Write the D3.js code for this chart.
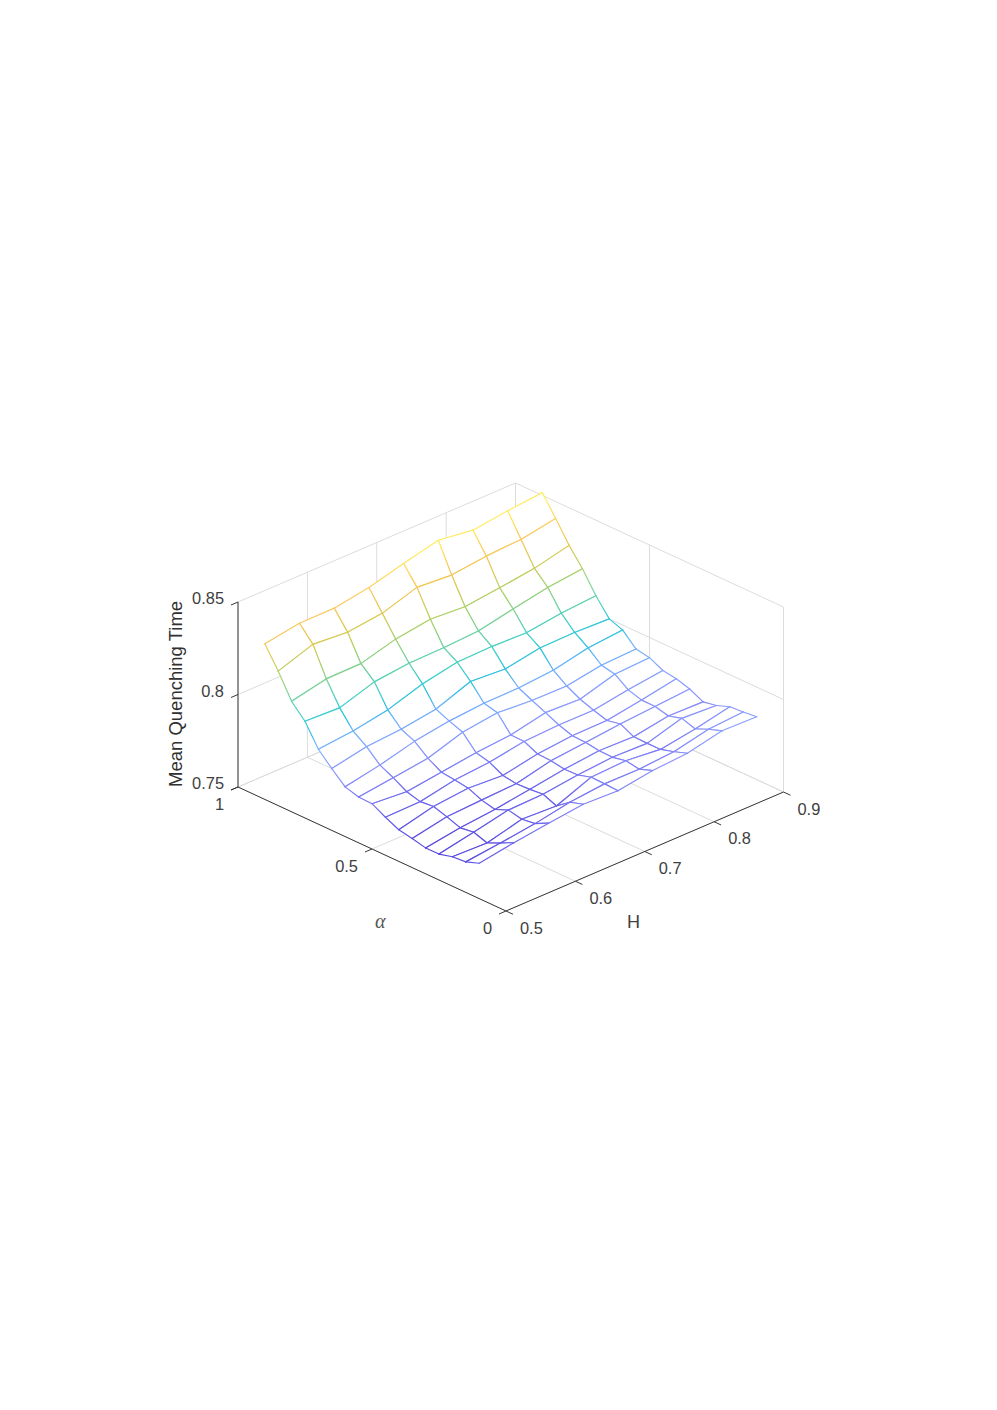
<!DOCTYPE html>
<html><head><meta charset="utf-8">
<script src="https://cdn.jsdelivr.net/npm/d3@7/dist/d3.min.js"></script>
<style>html,body{margin:0;padding:0;background:#fff}svg{display:block}text{font-family:"Liberation Sans",Arial,sans-serif}</style>
</head><body><svg id="c" width="997" height="1410"></svg>
<script>
const hValues=[0.5,0.55,0.6,0.65,0.7,0.75,0.8,0.85,0.9];
const alphaValues=[0.9,0.85,0.8,0.75,0.7,0.65,0.6,0.55,0.5,0.45,0.4,0.35,0.3,0.25,0.2,0.15,0.1];
const zA90=[.8341,.8372,.8373,.8404,.8454,.8499,.8473,.8497,.8515];
const zA85=[.8227,.8291,.8276,.8298,.8358,.8344,.8366,.8376,.8409];
const zA80=[.8097,.8138,.8140,.8192,.8219,.8206,.8228,.8253,.8297];
const zA75=[.8023,.8015,.8075,.8095,.8099,.8109,.8147,.8183,.8204];
const zA70=[.7905,.7923,.7957,.8017,.8054,.8058,.8052,.8078,.8092];
const zA65=[.7834,.7872,.7886,.7914,.7983,.7970,.8004,.8007,.8000];
const zA60=[.7769,.7806,.7854,.7883,.7899,.7901,.7917,.7957,.7973];
const zA55=[.7748,.7771,.7796,.7856,.7881,.7867,.7865,.7897,.7904];
const zA50=[.7745,.7729,.7754,.7779,.7795,.7835,.7827,.7882,.7891];
const zA45=[.7705,.7709,.7746,.7761,.7793,.7802,.7801,.7831,.7855];
const zA40=[.7671,.7716,.7735,.7723,.7759,.7777,.7779,.7809,.7844];
const zA35=[.7657,.7694,.7704,.7712,.7756,.7774,.7794,.7808,.7822];
const zA30=[.7640,.7668,.7687,.7715,.7743,.7763,.7758,.7790,.7786];
const zA25=[.7640,.7678,.7717,.7722,.7746,.7761,.7756,.7811,.7800];
const zA20=[.7659,.7653,.7701,.7692,.7767,.7776,.7757,.7787,.7827];
const zA15=[.7665,.7686,.7711,.7746,.7765,.7764,.7778,.7819,.7832];
const zA10=[.7691,.7722,.7747,.7769,.7761,.7790,.7803,.7844,.7840];
const zRows=[zA90,zA85,zA80,zA75,zA70,zA65,zA60,zA55,zA50,zA45,zA40,zA35,zA30,zA25,zA20,zA15,zA10];
const hTicks=[0.5,0.6,0.7,0.8,0.9];
const alphaTicks=[0,0.5,1];
const alphaTickLabels=["0","0.5","1"];
const zTicks=[0.75,0.8,0.85];
const zTickLabels=["0.75","0.8","0.85"];
const colorStops=[.764,.772,.780,.787,.793,.797,.803,.810,.820,.830,.838,.848];
const colorValues=["#5444dc","#6c66ec","#8a92fc","#86a4ff","#6ab6fa","#2fc0e0","#3ccfd0","#68d2a8","#a8d26a","#e0c850","#fcc860","#ffec60"];

const color=d3.scaleLinear().domain(colorStops).range(colorValues).clamp(true);
const hx=d3.scaleLinear().domain([.5,.9]).range([0,277.5]);
const hy=d3.scaleLinear().domain([.5,.9]).range([0,-119]);
const ax=d3.scaleLinear().domain([0,1]).range([0,-268]);
const ay=d3.scaleLinear().domain([0,1]).range([0,-124]);
const zy=d3.scaleLinear().domain([.75,.85]).range([0,-185]);
const X0=506,Y0=911;
const P=(h,a,z)=>[X0+hx(h)+ax(a),Y0+hy(h)+ay(a)+zy(z)];
const line=(p,q)=>({x1:p[0],y1:p[1],x2:q[0],y2:q[1]});
const svg=d3.select("#c");
const defs=svg.append("defs");
const zMin=.75,zMax=.85,hMin=.5,hMax=.9,aMin=0,aMax=1;

const grid=[];
zTicks.forEach(z=>{grid.push(line(P(hMin,aMax,z),P(hMax,aMax,z)));grid.push(line(P(hMax,aMin,z),P(hMax,aMax,z)));});
hTicks.forEach(h=>{grid.push(line(P(h,aMin,zMin),P(h,aMax,zMin)));grid.push(line(P(h,aMax,zMin),P(h,aMax,zMax)));});
alphaTicks.forEach(a=>{grid.push(line(P(hMin,a,zMin),P(hMax,a,zMin)));grid.push(line(P(hMax,a,zMin),P(hMax,a,zMax)));});
const attrs=(s)=>s.attr("x1",d=>d.x1).attr("y1",d=>d.y1).attr("x2",d=>d.x2).attr("y2",d=>d.y2);
svg.append("g").selectAll("line").data(grid).join("line").call(attrs).attr("stroke","#dcdcdc").attr("stroke-width",1);

const axisCol="#3a3a3a";
const axes=[line(P(hMin,aMax,zMin),P(hMin,aMax,zMax)),line(P(hMin,aMax,zMin),P(hMin,aMin,zMin)),line(P(hMin,aMin,zMin),P(hMax,aMin,zMin))];
const tk=7/277.5*.4;
const tka=7/268;
const ticks=[];
zTicks.forEach(z=>ticks.push(line(P(hMin,aMax,z),P(hMin-tk,aMax,z))));
alphaTicks.forEach(a=>ticks.push(line(P(hMin,a,zMin),P(hMin-tk,a,zMin))));
hTicks.forEach(h=>ticks.push(line(P(h,aMin,zMin),P(h,aMin-tka,zMin))));
svg.append("g").selectAll("line").data(axes.concat(ticks)).join("line").call(attrs).attr("stroke",axisCol).attr("stroke-width",1);

const gid=(r,c,r2,c2)=>`e${r}_${c}_${r2}_${c2}`;
const V=(r,c)=>P(hValues[c],alphaValues[r],zRows[r][c]);
const edgeStroke=(r,c,r2,c2)=>{
  const id=gid(r,c,r2,c2),a=V(r,c),b=V(r2,c2),za=zRows[r][c],zb=zRows[r2][c2];
  const g=defs.append("linearGradient").attr("id",id).attr("gradientUnits","userSpaceOnUse")
    .attr("x1",a[0]).attr("y1",a[1]).attr("x2",b[0]).attr("y2",b[1]);
  d3.range(5).forEach(i=>{const t=i/4;g.append("stop").attr("offset",t).attr("stop-color",color(za+(zb-za)*t));});
  return `url(#${id})`;
};
const edges=new Map();
const getEdge=(r,c,r2,c2)=>{const k=gid(r,c,r2,c2);if(!edges.has(k))edges.set(k,edgeStroke(r,c,r2,c2));return edges.get(k);};
const meshG=svg.append("g").attr("fill","none").attr("stroke-width",1.15).attr("stroke-linecap","round");
for(let r=0;r<alphaValues.length-1;r++){
  for(let c=hValues.length-2;c>=0;c--){
    const q=[[r,c],[r,c+1],[r+1,c+1],[r+1,c]];
    meshG.append("polygon").attr("points",q.map(([a,b])=>V(a,b).join(",")).join(" ")).attr("fill","#fff").attr("stroke","none");
    [[q[0],q[1]],[q[1],q[2]],[q[3],q[2]],[q[0],q[3]]].forEach(([s,e])=>{
      const a=V(s[0],s[1]),b=V(e[0],e[1]);
      meshG.append("line").attr("x1",a[0]).attr("y1",a[1]).attr("x2",b[0]).attr("y2",b[1])
        .attr("stroke",getEdge(s[0],s[1],e[0],e[1]));
    });
  }
}

const txtCol="#404040";
const lab=svg.append("g").attr("fill",txtCol).attr("font-size",16.4);
zTicks.forEach((z,i)=>{const p=P(hMin,aMax,z);lab.append("text").attr("x",p[0]-14).attr("y",p[1]+2).attr("text-anchor","end").text(zTickLabels[i]);});
alphaTicks.forEach((a,i)=>{const p=P(hMin,a,zMin);lab.append("text").attr("x",p[0]-14).attr("y",p[1]+23).attr("text-anchor","end").text(alphaTickLabels[i]);});
hTicks.forEach(h=>{const p=P(h,aMin,zMin);lab.append("text").attr("x",p[0]+14).attr("y",p[1]+22.5).text(d3.format(".1f")(h));});
svg.append("text").attr("x",627).attr("y",928).attr("font-size",18).attr("fill",txtCol).text("H");
svg.append("text").attr("x",375).attr("y",928).attr("font-size",20).attr("font-style","italic").style("font-family","'Liberation Serif',serif").attr("fill","#555").text("α");
svg.append("text").attr("transform","translate(182,787) rotate(-90)").attr("font-size",18.5).attr("fill","#303030").text("Mean Quenching Time");
</script></body></html>
